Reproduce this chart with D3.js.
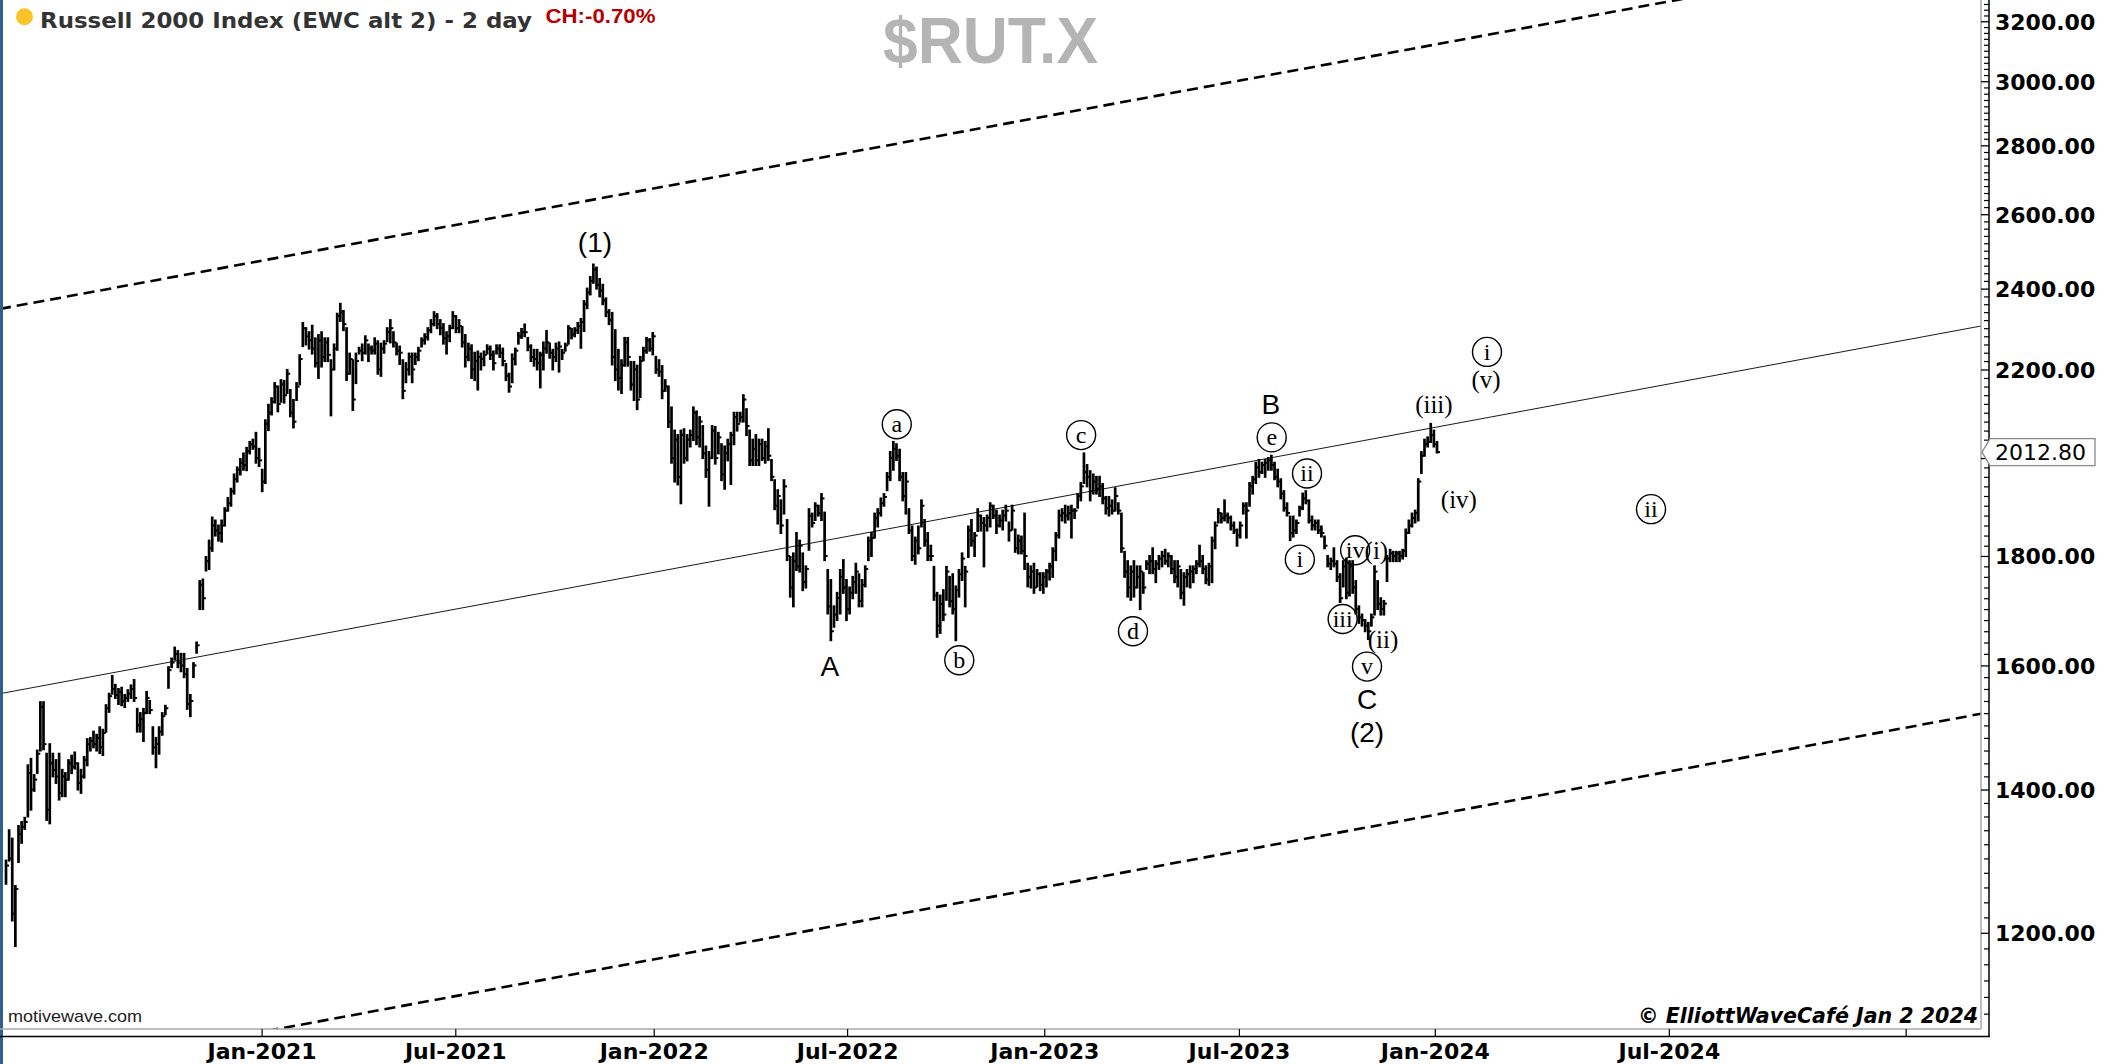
<!DOCTYPE html>
<html>
<head>
<meta charset="utf-8">
<script src="https://cdn.jsdelivr.net/npm/d3@7"></script>
<style>
  body { margin: 0; background: #fff; }
  svg { display: block; }
</style>
</head>
<body>
<div class="canvas"></div>
<script>
// 2-day bars, mid May 2020 -> Jan 2 2024
const highs = [
  1297,1340,1328,1262,1346,1352,1358,1437,1447,1422,
  1460,1538,1538,1455,1470,1455,1445,1455,1430,1425,
  1445,1452,1457,1440,1430,1450,1478,1480,1490,1485,
  1497,1493,1533,1552,1582,1567,1560,1562,1550,1558,
  1566,1575,1527,1520,1527,1555,1540,1497,1480,1497,
  1520,1532,1597,1612,1631,1625,1620,1620,1594,1550,
  1604,1640,1752,1755,1798,1830,1876,1870,1860,1870,
  1895,1916,1935,1965,1980,1998,2010,2022,2035,2040,
  2055,2020,1975,2083,2118,2133,2168,2160,2175,2173,
  2199,2152,2129,2168,2234,2313,2300,2290,2306,2275,
  2283,2290,2275,2275,2222,2260,2336,2361,2343,2300,
  2238,2222,2238,2252,2260,2280,2260,2255,2275,2268,
  2262,2268,2300,2320,2290,2262,2255,2222,2215,2238,
  2238,2238,2252,2275,2285,2300,2320,2340,2335,2320,
  2310,2290,2306,2340,2330,2320,2303,2283,2262,2258,
  2240,2243,2238,2243,2258,2255,2243,2258,2258,2250,
  2213,2190,2236,2250,2288,2298,2309,2276,2258,2247,
  2247,2240,2265,2293,2262,2247,2262,2265,2247,2262,
  2305,2298,2300,2313,2323,2368,2400,2430,2463,2455,
  2425,2410,2375,2345,2338,2295,2247,2222,2276,2276,
  2218,2218,2209,2230,2252,2276,2273,2288,2230,2222,
  2208,2175,2160,2112,2060,2050,2060,2063,2050,2060,
  2112,2103,2090,2070,2025,2013,2070,2068,2055,2030,
  2025,2040,2055,2100,2100,2100,2140,2108,2060,2040,
  2050,2040,2040,2035,2063,1996,1953,1932,1911,1953,
  1871,1798,1805,1845,1830,1805,1780,1893,1884,1905,
  1900,1924,1886,1773,1754,1705,1730,1773,1792,1754,
  1740,1760,1785,1765,1754,1780,1836,1845,1884,1893,
  1915,1924,1968,2013,2035,2030,2018,1968,1968,1893,
  1858,1836,1858,1911,1871,1845,1820,1779,1730,1725,
  1735,1779,1760,1765,1742,1773,1805,1779,1858,1871,
  1845,1893,1880,1875,1880,1905,1900,1890,1880,1890,
  1900,1866,1900,1852,1840,1838,1884,1785,1780,1785,
  1773,1767,1767,1773,1785,1815,1845,1890,1893,1900,
  1898,1900,1893,1924,1947,2010,1985,1972,1965,1960,
  1960,1945,1918,1918,1911,1936,1905,1884,1808,1790,
  1780,1790,1780,1780,1767,1790,1800,1815,1790,1800,
  1808,1812,1805,1800,1790,1790,1773,1767,1773,1780,
  1780,1790,1820,1800,1780,1785,1836,1866,1893,1884,
  1911,1884,1878,1866,1852,1866,1905,1905,1947,1960,
  1990,1996,1990,1996,2000,2005,1990,1975,1955,1930,
  1905,1878,1878,1870,1898,1925,1930,1911,1878,1870,
  1870,1858,1838,1800,1795,1815,1790,1765,1790,1795,
  1790,1790,1752,1705,1690,1680,1675,1690,1780,1752,
  1720,1715,1800,1812,1808,1808,1808,1812,1852,1870,
  1884,1890,1955,2013,2040,2045,2075,2060,2035
];
const lows = [
  1265,1297,1216,1183,1295,1322,1342,1360,1370,1398,
  1425,1460,1462,1355,1350,1420,1410,1385,1390,1390,
  1415,1425,1432,1400,1395,1418,1437,1460,1465,1460,
  1456,1453,1490,1522,1552,1545,1535,1533,1530,1540,
  1545,1540,1490,1490,1475,1520,1520,1455,1434,1455,
  1485,1518,1562,1597,1610,1597,1590,1580,1527,1515,
  1580,1622,1700,1700,1772,1775,1810,1840,1830,1828,
  1860,1890,1900,1925,1950,1965,1975,1974,2010,2020,
  1990,1983,1930,1947,2061,2096,2123,2103,2125,2123,
  2145,2092,2067,2129,2165,2256,2260,2250,2238,2207,
  2180,2207,2220,2220,2094,2200,2247,2318,2295,2175,
  2190,2106,2168,2238,2222,2238,2220,2238,2238,2190,
  2185,2240,2268,2265,2255,2236,2213,2133,2170,2188,
  2170,2213,2222,2255,2262,2272,2290,2307,2300,2285,
  2262,2238,2268,2300,2290,2290,2255,2207,2222,2180,
  2175,2153,2200,2210,2238,2225,2200,2238,2230,2210,
  2175,2148,2170,2212,2262,2276,2280,2246,2220,2209,
  2200,2158,2200,2240,2228,2200,2220,2195,2225,2245,
  2262,2275,2280,2288,2252,2293,2350,2385,2415,2400,
  2380,2360,2330,2310,2212,2175,2153,2145,2209,2209,
  2153,2129,2108,2136,2222,2240,2245,2236,2192,2185,
  2133,2150,2068,1990,1950,1944,1905,1990,1995,2025,
  2039,2030,2025,2000,1960,1900,2000,1988,2010,1953,
  1935,1995,1945,2030,2060,2080,2080,2050,1985,1985,
  1985,1985,1996,1990,1996,1953,1893,1864,1845,1884,
  1792,1723,1705,1773,1770,1735,1740,1812,1858,1871,
  1880,1871,1792,1692,1644,1668,1680,1692,1730,1680,
  1692,1720,1730,1705,1705,1742,1792,1800,1836,1858,
  1880,1900,1932,1953,1975,1996,1953,1911,1884,1845,
  1792,1785,1805,1858,1820,1792,1792,1717,1650,1657,
  1680,1717,1705,1692,1644,1723,1754,1705,1798,1820,
  1800,1849,1850,1780,1850,1858,1875,1845,1858,1852,
  1870,1830,1852,1808,1805,1805,1775,1742,1740,1730,
  1742,1735,1730,1742,1755,1760,1792,1836,1870,1866,
  1872,1836,1875,1896,1911,1947,1940,1911,1925,1925,
  1920,1905,1884,1880,1884,1890,1884,1808,1760,1723,
  1717,1723,1740,1700,1730,1775,1767,1767,1750,1775,
  1780,1785,1780,1767,1750,1742,1720,1708,1742,1740,
  1750,1767,1780,1767,1748,1745,1750,1815,1866,1866,
  1870,1866,1852,1845,1820,1836,1884,1836,1900,1925,
  1947,1960,1968,1960,1975,1975,1955,1940,1915,1890,
  1880,1831,1838,1845,1880,1893,1905,1866,1852,1852,
  1845,1838,1815,1780,1775,1780,1752,1713,1742,1720,
  1725,1730,1692,1675,1670,1660,1646,1670,1690,1700,
  1690,1690,1752,1790,1790,1790,1790,1795,1800,1845,
  1858,1866,1870,1968,2005,2025,2035,2025,2012
];
const closes = [
  1290,1300,1225,1258,1335,1345,1352,1425,1400,1415,
  1455,1530,1470,1370,1440,1430,1420,1395,1420,1415,
  1440,1435,1440,1410,1420,1445,1470,1475,1470,1480,
  1465,1488,1528,1548,1560,1550,1555,1540,1545,1552,
  1560,1545,1500,1510,1520,1545,1525,1465,1470,1490,
  1515,1528,1592,1605,1620,1605,1600,1585,1535,1540,
  1600,1635,1745,1720,1790,1815,1860,1850,1845,1860,
  1890,1905,1930,1955,1975,1990,1985,2015,2030,2025,
  2000,1995,1950,2075,2100,2125,2160,2120,2165,2140,
  2190,2100,2080,2160,2225,2300,2280,2270,2250,2215,
  2270,2230,2265,2235,2200,2250,2330,2340,2310,2190,
  2225,2130,2220,2245,2240,2270,2250,2245,2262,2200,
  2250,2262,2290,2300,2265,2245,2240,2150,2200,2230,
  2200,2230,2245,2270,2278,2295,2310,2330,2310,2300,
  2275,2280,2300,2330,2300,2305,2265,2230,2250,2200,
  2220,2230,2225,2235,2250,2235,2215,2250,2240,2220,
  2185,2160,2225,2245,2280,2290,2290,2255,2230,2225,
  2215,2235,2250,2265,2240,2230,2250,2255,2240,2258,
  2300,2285,2295,2305,2315,2360,2390,2420,2450,2410,
  2395,2370,2340,2320,2230,2200,2180,2210,2265,2230,
  2165,2200,2130,2220,2245,2270,2250,2280,2200,2195,
  2150,2160,2080,2000,2040,1960,2050,2000,2040,2050,
  2100,2045,2080,2010,1975,2000,2060,2000,2045,1965,
  2010,2030,2050,2090,2075,2090,2130,2070,1995,2020,
  1995,2030,2000,2025,2005,1960,1900,1920,1860,1940,
  1800,1740,1790,1780,1820,1750,1775,1880,1865,1900,
  1885,1915,1800,1705,1660,1690,1720,1760,1740,1700,
  1730,1750,1770,1715,1745,1775,1830,1835,1875,1885,
  1905,1918,1960,2000,2020,2005,1960,1920,1950,1850,
  1800,1830,1815,1900,1830,1800,1800,1725,1670,1710,
  1690,1770,1715,1700,1735,1765,1795,1770,1850,1830,
  1840,1880,1865,1860,1875,1900,1880,1860,1870,1880,
  1890,1850,1890,1815,1830,1810,1800,1760,1770,1740,
  1765,1745,1760,1770,1780,1810,1840,1880,1885,1880,
  1885,1890,1890,1920,1940,1970,1960,1930,1950,1935,
  1940,1915,1895,1900,1890,1920,1890,1815,1770,1740,
  1770,1740,1760,1770,1740,1785,1790,1775,1785,1795,
  1800,1790,1800,1775,1760,1780,1730,1760,1765,1770,
  1775,1785,1790,1775,1755,1780,1830,1860,1885,1875,
  1880,1875,1860,1850,1840,1860,1900,1890,1940,1955,
  1980,1970,1985,1990,1995,1985,1960,1950,1925,1895,
  1885,1845,1850,1865,1895,1915,1910,1870,1860,1865,
  1850,1845,1820,1785,1790,1785,1760,1720,1780,1730,
  1780,1740,1700,1685,1680,1670,1660,1685,1770,1710,
  1700,1710,1795,1805,1800,1805,1800,1810,1845,1860,
  1875,1885,1950,2005,2030,2035,2050,2030,2012.8
];

// x axis: bar index of each date tick
const tickIdx = [81.8, 143.8, 207.3, 269.2, 332.3, 394.6, 457.3, 532.2, 608.0];
const tickLabels = ['Jan-2021', 'Jul-2021', 'Jan-2022', 'Jul-2022', 'Jan-2023', 'Jul-2023', 'Jan-2024', 'Jul-2024', ''];

const priceTicks = [1200, 1400, 1600, 1800, 2000, 2200, 2400, 2600, 2800, 3000, 3200];
const lastPrice = 2012.80;

// trend channel anchors: [bar index, price]
const upperChannel = [[0, 2351], [458, 3122]];
const midLine = [[0, 1554], [458, 2068]];
const lowerChannel = [[0, 1025], [458, 1363]];

// elliott wave labels (bar index, price)
const circled = [
  ['a', 285.1, 2074], ['b', 305.1, 1609], ['c', 344.1, 2050], ['d', 360.7, 1660],
  ['e', 405.1, 2045], ['ii', 416.4, 1967], ['i', 414.1, 1793], ['iv', 431.8, 1811],
  ['iii', 427.8, 1682], ['v', 435.6, 1598], ['i', 474.0, 2242], ['ii', 526.5, 1893]
];
const romans = [
  ['(i)', 438.6, 1811], ['(ii)', 440.7, 1645], ['(iii)', 457.0, 2117],
  ['(iv)', 465.0, 1912], ['(v)', 473.7, 2175]
];
const degree = [
  ['(1)', 188.5, 2523], ['A', 263.7, 1599], ['B', 404.8, 2120],
  ['C', 435.6, 1544], ['(2)', 435.6, 1490]
];

const W = 2105, H = 1064;
const plot = { right: 1981, bottom: 1029 };

const svg = d3.select('.canvas').append('svg')
  .attr('width', W)
  .attr('height', H);

svg.append('rect').attr('width', W).attr('height', H).attr('fill', '#fff');

const x = d3.scaleLinear().domain([0, highs.length - 1]).range([6, 1437]);
const y = d3.scaleLog().domain([1082, 3274]).range([plot.bottom, 0]);

svg.append('clipPath').attr('id', 'plotclip')
  .append('rect').attr('x', 0).attr('y', 0).attr('width', plot.right).attr('height', plot.bottom);

const graph = svg.append('g').attr('clip-path', 'url(#plotclip)');

// channel lines, stretched across the whole plot
const channel = (pts, stroke, width, dash) => {
  const x0 = x(pts[0][0]), y0 = y(pts[0][1]);
  const x1 = x(pts[1][0]), y1 = y(pts[1][1]);
  const k = (y1 - y0) / (x1 - x0);
  graph.append('line')
    .attr('x1', 0).attr('y1', y0 - x0 * k)
    .attr('x2', plot.right).attr('y2', y0 + (plot.right - x0) * k)
    .attr('stroke', stroke)
    .attr('stroke-width', width)
    .attr('stroke-dasharray', dash);
};
channel(upperChannel, '#000', 2.6, '11,6');
channel(lowerChannel, '#000', 2.6, '11,6');
channel(midLine, '#1a1a1a', 1, null);

// HLC bars
const bars = graph.selectAll('g.bar')
  .data(d3.range(highs.length))
  .enter().append('g').attr('class', 'bar');

bars.append('line')
  .attr('x1', i => x(i)).attr('x2', i => x(i))
  .attr('y1', i => y(highs[i]) - 1).attr('y2', i => y(lows[i]) + 1)
  .attr('stroke', '#000').attr('stroke-width', 2.7);

bars.append('line')
  .attr('x1', i => x(i)).attr('x2', i => x(i) + 3)
  .attr('y1', i => y(closes[i])).attr('y2', i => y(closes[i]))
  .attr('stroke', '#000').attr('stroke-width', 2);

// wave labels
const waves = svg.append('g');
circled.forEach(([t, i, p]) => {
  waves.append('circle')
    .attr('cx', x(i)).attr('cy', y(p)).attr('r', 14.5)
    .attr('fill', 'none').attr('stroke', '#000').attr('stroke-width', 1.4);
  waves.append('text')
    .attr('x', x(i)).attr('y', y(p)).attr('dy', '0.32em')
    .attr('text-anchor', 'middle')
    .attr('font-family', '"Liberation Serif", serif').attr('font-size', 24)
    .text(t);
});
romans.forEach(([t, i, p]) => {
  waves.append('text')
    .attr('x', x(i)).attr('y', y(p)).attr('dy', '0.33em')
    .attr('text-anchor', 'middle')
    .attr('font-family', '"Liberation Serif", serif').attr('font-size', 25)
    .text(t);
});
degree.forEach(([t, i, p]) => {
  waves.append('text')
    .attr('x', x(i)).attr('y', y(p)).attr('dy', '0.36em')
    .attr('text-anchor', 'middle')
    .attr('font-family', '"Liberation Sans", Arial, sans-serif').attr('font-size', 28)
    .text(t);
});

// frame + axis lines
svg.append('rect').attr('x', 0).attr('y', 0).attr('width', 3).attr('height', H).attr('fill', '#2f5f8f');
svg.append('line').attr('x1', plot.right).attr('x2', plot.right).attr('y1', 0).attr('y2', plot.bottom)
  .attr('stroke', '#a8a8a8').attr('stroke-width', 1.5);
svg.append('line').attr('x1', 0).attr('x2', plot.right).attr('y1', plot.bottom).attr('y2', plot.bottom)
  .attr('stroke', '#a8a8a8').attr('stroke-width', 1.5);
svg.append('line').attr('x1', 1989).attr('x2', 1989).attr('y1', 0).attr('y2', 1037)
  .attr('stroke', '#000').attr('stroke-width', 1.5);
svg.append('line').attr('x1', 0).attr('x2', 1989.7).attr('y1', 1036.5).attr('y2', 1036.5)
  .attr('stroke', '#000').attr('stroke-width', 1.5);

// x axis
const xAxis = d3.axisBottom(x)
  .tickValues(tickIdx)
  .tickFormat((d, k) => tickLabels[k])
  .tickSize(7.5)
  .tickPadding(0);
const gx = svg.append('g').attr('transform', `translate(0,${plot.bottom})`).call(xAxis);
gx.select('.domain').remove();
gx.selectAll('.tick line').attr('stroke', '#000').attr('stroke-width', 1.2);
gx.selectAll('.tick text')
  .attr('y', 22.5).attr('dy', '0.36em')
  .attr('fill', '#000')
  .attr('font-family', '"DejaVu Sans", Verdana, sans-serif')
  .attr('font-weight', 'bold')
  .attr('font-size', 22);

// y axis: minor ticks every 20, major every 200
const minorTicks = d3.range(1100, 3261, 20).filter(v => v % 200 !== 0);
const gyMinor = svg.append('g').attr('transform', `translate(1984,0)`)
  .call(d3.axisRight(y).tickValues(minorTicks).tickFormat('').tickSize(5));
gyMinor.select('.domain').remove();
gyMinor.selectAll('.tick line').attr('stroke', '#000').attr('stroke-width', 1.2);

const gy = svg.append('g').attr('transform', `translate(${plot.right},0)`)
  .call(d3.axisRight(y).tickValues(priceTicks).tickFormat(d3.format('.2f')).tickSize(8).tickPadding(6));
gy.select('.domain').remove();
gy.selectAll('.tick line').attr('stroke', '#000').attr('stroke-width', 1.3);
gy.selectAll('.tick text')
  .attr('dy', '0.36em')
  .attr('fill', '#000')
  .attr('font-family', '"DejaVu Sans", Verdana, sans-serif')
  .attr('font-weight', 'bold')
  .attr('font-size', 22);

// last price flag (covers the 2000.00 label like the original)
const yp = y(lastPrice);
svg.append('path')
  .attr('d', `M1982,${yp} L1990,${yp - 13.5} L2095,${yp - 13.5} L2095,${yp + 13.5} L1990,${yp + 13.5} Z`)
  .attr('fill', '#fff').attr('stroke', '#8a8a8a').attr('stroke-width', 1.3);
svg.append('text')
  .attr('x', 1995).attr('y', yp).attr('dy', '0.36em')
  .attr('font-family', '"DejaVu Sans", Verdana, sans-serif')
  .attr('font-size', 22)
  .text(d3.format('.2f')(lastPrice));

// headings
svg.append('circle').attr('cx', 24.5).attr('cy', 16.7).attr('r', 8.5).attr('fill', '#f9c329');
svg.append('text')
  .attr('x', 40).attr('y', 28.3)
  .attr('font-family', '"DejaVu Sans", Verdana, sans-serif')
  .attr('font-weight', 'bold').attr('font-size', 21)
  .attr('fill', '#333')
  .attr('textLength', 492).attr('lengthAdjust', 'spacingAndGlyphs')
  .text('Russell 2000 Index (EWC alt 2) - 2 day');
svg.append('text')
  .attr('x', 545.5).attr('y', 22.7)
  .attr('font-family', '"Liberation Sans", Arial, sans-serif')
  .attr('font-weight', 'bold').attr('font-size', 21)
  .attr('fill', '#b50000')
  .attr('textLength', 110).attr('lengthAdjust', 'spacingAndGlyphs')
  .text('CH:-0.70%');
svg.append('text')
  .attr('x', 990.5).attr('y', 63).attr('text-anchor', 'middle')
  .attr('font-family', '"Liberation Sans", Arial, sans-serif')
  .attr('font-weight', 'bold').attr('font-size', 64)
  .attr('fill', '#b4b4b4')
  .attr('textLength', 215).attr('lengthAdjust', 'spacingAndGlyphs')
  .text('$RUT.X');

svg.append('text')
  .attr('x', 8).attr('y', 1021.5)
  .attr('font-family', '"Liberation Sans", Arial, sans-serif')
  .attr('font-size', 17).attr('fill', '#222')
  .attr('textLength', 134).attr('lengthAdjust', 'spacingAndGlyphs')
  .text('motivewave.com');
svg.append('text')
  .attr('x', 1638).attr('y', 1023)
  .attr('font-family', '"Liberation Sans Narrow", "DejaVu Sans Condensed", sans-serif')
  .attr('font-style', 'italic').attr('font-weight', 'bold').attr('font-size', 22)
  .attr('fill', '#000')
  .attr('textLength', 340).attr('lengthAdjust', 'spacingAndGlyphs')
  .text('© ElliottWaveCafé Jan 2 2024');
</script>
</body>
</html>
